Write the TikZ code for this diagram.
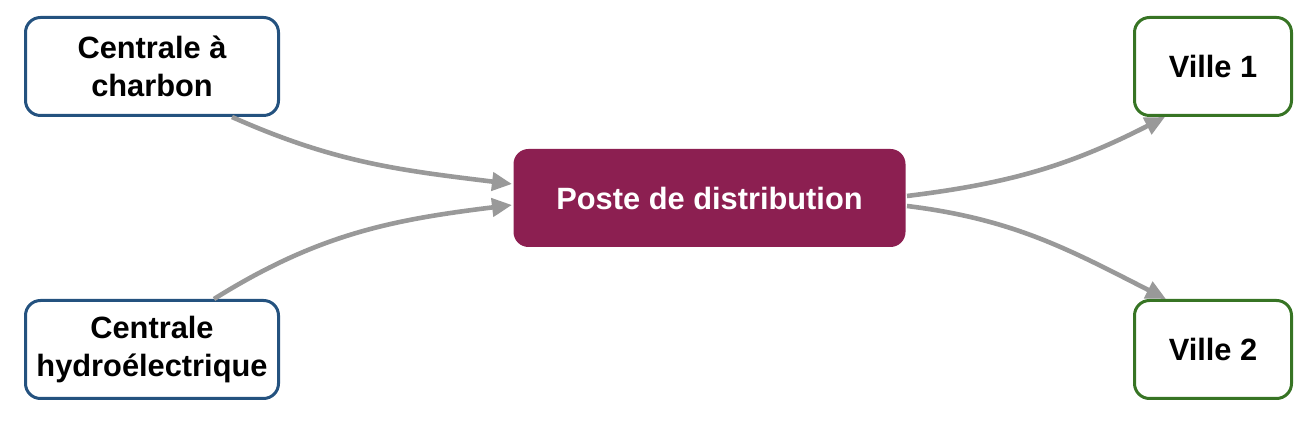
\documentclass[tikz,border=0pt]{standalone}
\usepackage{fontspec}
\setmainfont{Liberation Sans}
\usetikzlibrary{arrows.meta}
\definecolor{plantblue}{HTML}{24527F}
\definecolor{citygreen}{HTML}{377424}
\definecolor{postemaroon}{HTML}{8C1F51}
\definecolor{wiregray}{HTML}{999999}

\begin{document}
\begin{tikzpicture}[x=0.5pt,y=0.5pt,
    box/.style={line width=1.5pt, rounded corners=7.5pt, align=center, inner sep=0pt,
        font=\fontsize{15.4}{19}\selectfont\bfseries},
    plant/.style={box, draw=plantblue, minimum width=126.5pt, minimum height=49pt},
    city/.style={box, draw=citygreen, minimum width=78.5pt, minimum height=49pt},
    poste/.style={box, fill=postemaroon, text=white, minimum width=196pt, minimum height=49pt},
    wire/.style={line width=2.3pt, draw=wiregray, -{Triangle[length=10pt,width=9pt]}}]

    \useasboundingbox (0,0) rectangle (1312,422);

    % Power plants
    \node[plant] (charbon) at (152,355.5) {Centrale à\\charbon};
    \node[plant] (hydro) at (152,72.5) {Centrale\\hydroélectrique};

    % Substation
    \node[poste] (poste) at (709.5,224) {Poste de distribution};

    % Cities
    \node[city] (ville1) at (1213,355.5) {Ville 1};
    \node[city] (ville2) at (1213,72.5) {Ville 2};

    % Lines
    \draw[wire] ([xshift=40pt]charbon.south) to[out=-24,in=173] ([yshift=7pt]poste.west);
    \draw[wire] ([xshift=31pt]hydro.north) to[out=32,in=-173] ([yshift=-3.5pt]poste.west);
    \draw[wire] ([yshift=1pt]poste.east) to[out=7,in=-153] ([xshift=-24pt]ville1.south);
    \draw[wire] ([yshift=-4pt]poste.east) to[out=-7,in=153] ([xshift=-23.5pt]ville2.north);

\end{tikzpicture}
\end{document}
